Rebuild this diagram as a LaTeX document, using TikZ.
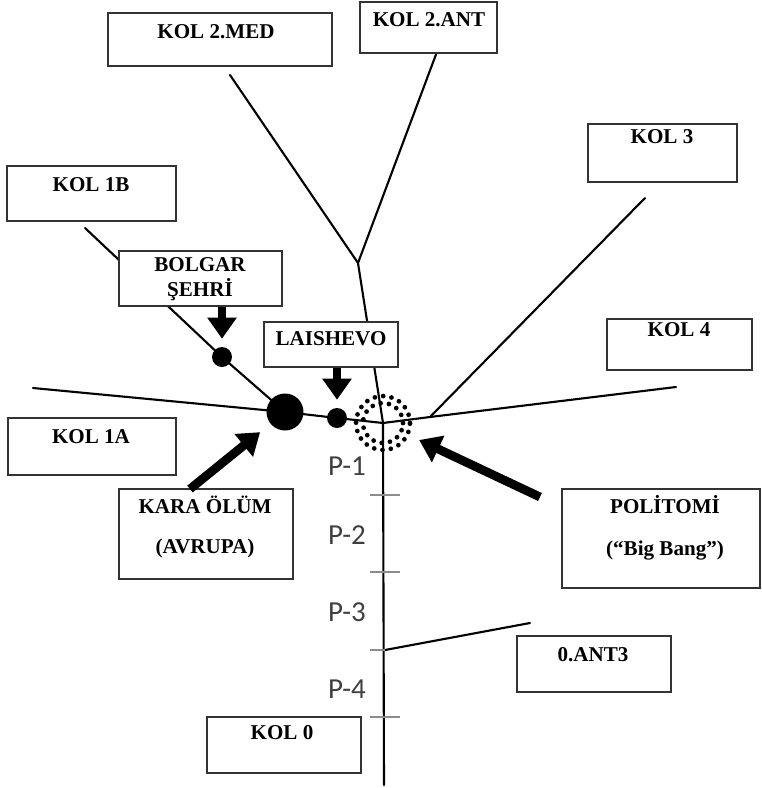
\documentclass[tikz,border=0pt]{standalone}
\usepackage{fontspec}
\setmainfont{Liberation Serif}
\newfontfamily\periodfont{Carlito}
\usetikzlibrary{positioning, arrows.meta, fit}

\begin{document}
\begin{tikzpicture}[
        x=0.02cm, y=-0.02cm,
        >={Triangle[length=12pt, width=16pt]},
        branch/.style={line width=1.2pt, line cap=round},
        box/.style={draw=black!80, line width=0.8pt, fill=white, rectangle, inner sep=0pt},
        tag/.style={font=\fontsize{12}{14}\selectfont\bfseries, align=center, inner sep=0pt},
        period/.style={font=\fontsize{16.5}{18}\periodfont, text=black!75},
        tickmark/.style={draw=black!45, line width=1pt},
        dot/.style={circle, fill=black, inner sep=0pt},
        ring/.style={circle, draw, inner sep=0pt, line width=2.7pt, line cap=round, dash pattern=on 0pt off 4.8pt},
        fatarrow/.style={->, line width=5pt},
    ]
    \useasboundingbox (0,0) rectangle (761,788);

        % Points of the tree
        \coordinate (root) at (384,785);
        \coordinate (hub) at (383,423);
        \coordinate (fork) at (358,263);
        \coordinate (med-end) at (230,75);
        \coordinate (ant-end) at (447,25);
        \coordinate (k3-root) at (430,417);
        \coordinate (k3-end) at (645,198);
        \coordinate (k4-end) at (676,387);
        \coordinate (k1a-end) at (33,388);
        \coordinate (k1b-end) at (85,228);
        \coordinate (ant3-root) at (385,650);
        \coordinate (ant3-end) at (530,623);

        % Draw the dots on the branches
        \node[dot, minimum size=0.74cm] (dot-kara) at (285,412) {};
        \node[dot, minimum size=0.4cm] (dot-bolgar) at (222,357) {};
        \node[dot, minimum size=0.4cm] (dot-laishevo) at (337,418) {};

        % Draw the trunk and the branches
        \draw[branch] (root) -- (hub) -- (fork) -- (med-end);
        \draw[branch] (fork) -- (ant-end);
        \draw[branch] (k1a-end) -- (dot-kara.center) -- (dot-laishevo.center) -- (hub) -- (k3-root) -- (k4-end);
        \draw[branch] (k3-root) -- (k3-end);
        \draw[branch] (k1b-end) -- (dot-bolgar.center) -- (dot-kara.center);
        \draw[branch] (ant3-root) -- (ant3-end);

        % Draw the period marks on the trunk
        \foreach \y in {495, 572, 717}
            \draw[tickmark] (370,\y) -- (400,\y);
        \draw[tickmark] (370,650) -- (ant3-root);
        \foreach \name / \y in {1/466, 2/535, 3/612, 4/689}
            \node[period] (p-\name) at (347,\y) {P-\name};

        % Draw the dotted ring round the hub
        \node[ring, minimum size=1.08cm] (ring-out) at (hub) {};
        \node[ring, minimum size=0.8cm] (ring-in) at (hub) {};

        % Draw the boxes
        \foreach \name / \xa / \ya / \xb / \yb in {kolmed/108/13/332/66, kolant/360/2/497/53,
                kol3/588/124/737/182, kol1b/7/166/176/221, bolgar/119/251/282/306,
                laishevo/264/322/398/367, kol4/607/319/752/370, kol1a/8/418/176/475,
                kara/119/489/293/579, politomi/562/489/760/588, ant3/517/636/671/692,
                kol0/207/717/361/773}
            \node[box, fit={(\xa,\yb) (\xb,\ya)}] (\name) {};

        % Write the labels in the boxes
        \foreach \name / \x / \y / \txt in {kolmed/216/32/{KOL 2.MED}, kolant/429/20/{KOL 2.ANT},
                kol3/662/137/{KOL 3}, kol1b/91/185/{KOL 1B}, laishevo/331/339/{LAISHEVO},
                kol4/679/330/{KOL 4}, kol1a/91/437/{KOL 1A}, ant3/593/655/{0.ANT3},
                kol0/282/733/{KOL 0}}
            \node[tag] (\name-txt) at (\x,\y) {\txt};
        \node[tag] (bolgar-txt) at (200,279) {BOLGAR\\ŞEHRİ};
        \node[tag] (kara-txt) at (205,527) {KARA ÖLÜM\\[9pt](AVRUPA)};
        \node[tag] (politomi-txt) at (665,528) {POLİTOMİ\\[10pt](“Big Bang”)};

        % Draw the arrows
        \coordinate (kara-tail) at (190,489);
        \coordinate (politomi-tail) at (540,497);
        \draw[fatarrow, shorten >=4.5pt] (dot-bolgar |- bolgar.south) -- (dot-bolgar);
        \draw[fatarrow, shorten >=4.5pt] (dot-laishevo |- laishevo.south) -- (dot-laishevo);
        \draw[fatarrow, shorten >=7.5pt] (kara-tail) -- (dot-kara);
        \draw[fatarrow, shorten >=6pt] (politomi-tail) -- (ring-out);
\end{tikzpicture}
\end{document}
